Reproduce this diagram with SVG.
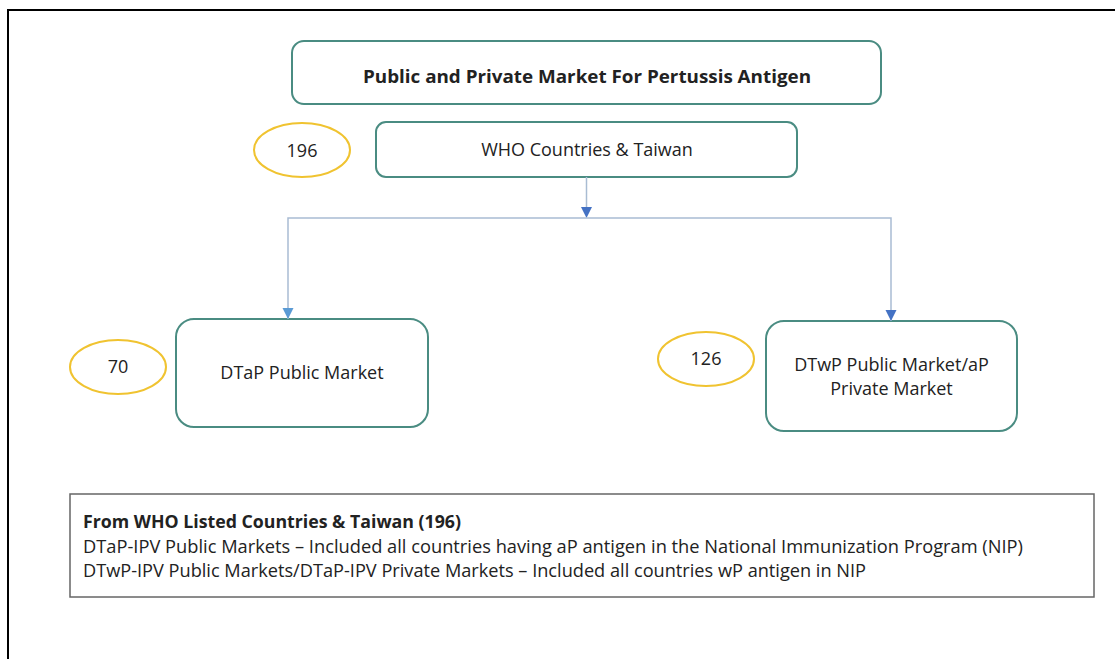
<svg xmlns="http://www.w3.org/2000/svg" width="1115" height="659" viewBox="0 0 1115 659">
<style>
.box{fill:#fff;stroke:#4a8c82;stroke-width:2}
.oval{fill:#fff;stroke:#f0c330;stroke-width:2}
.t{font-family:"Open Sans","Liberation Sans",sans-serif;fill:#222;font-size:18px}
.b{font-weight:bold}
.conn{fill:none;stroke:#a9bcd3;stroke-width:1.5}
</style>
<rect width="1115" height="659" fill="#fff"/>
<path d="M8,659 V10 H1115" fill="none" stroke="#000" stroke-width="2"/>
<g id="title"><rect class="box" x="292" y="41" width="589" height="63" rx="12"/><text class="t b" x="587" y="83" text-anchor="middle" font-size="19" textLength="448" lengthAdjust="spacingAndGlyphs">Public and Private Market For Pertussis Antigen</text></g>
<g id="who"><rect class="box" x="376" y="122" width="421" height="55" rx="10"/><text class="t" x="587" y="156" text-anchor="middle">WHO Countries &amp; Taiwan</text></g>
<g id="n196"><ellipse class="oval" cx="302" cy="150" rx="48" ry="27"/><text class="t" x="302" y="157" text-anchor="middle">196</text></g>
<g id="dtap"><rect class="box" x="176" y="319" width="252" height="108" rx="18"/><text class="t" x="302" y="379" text-anchor="middle">DTaP Public Market</text></g>
<g id="n70"><ellipse class="oval" cx="118" cy="367" rx="48" ry="27"/><text class="t" x="118" y="373" text-anchor="middle">70</text></g>
<g id="dtwp"><rect class="box" x="766" y="321" width="251" height="110" rx="18"/><text class="t" x="891.5" y="371" text-anchor="middle">DTwP Public Market/aP</text><text class="t" x="891.5" y="395" text-anchor="middle">Private Market</text></g>
<g id="n126"><ellipse class="oval" cx="706" cy="359" rx="48" ry="27"/><text class="t" x="706" y="365" text-anchor="middle">126</text></g>
<g id="connectors">
<line class="conn" x1="586.5" y1="177" x2="586.5" y2="207" stroke="#4472c4"/>
<path d="M581,207 L592,207 L586.5,218 Z" fill="#4472c4"/>
<path class="conn" d="M288,319 V218 H891 V321"/>
<path d="M282.5,308 L293.5,308 L288,319 Z" fill="#5b9bd5"/>
<path d="M885.5,310 L896.5,310 L891,321 Z" fill="#4472c4"/>
</g>
<g id="note"><rect x="70" y="494" width="1024" height="103" fill="#fff" stroke="#666" stroke-width="1.5"/>
<text class="t b" x="83" y="528" font-size="17.5" textLength="378" lengthAdjust="spacingAndGlyphs">From WHO Listed Countries &amp; Taiwan (196)</text>
<text class="t" x="83" y="553" textLength="940" lengthAdjust="spacingAndGlyphs">DTaP-IPV Public Markets – Included all countries having aP antigen in the National Immunization Program (NIP)</text>
<text class="t" x="83" y="577" textLength="783" lengthAdjust="spacingAndGlyphs">DTwP-IPV Public Markets/DTaP-IPV Private Markets – Included all countries wP antigen in NIP</text>
</g>
</svg>
